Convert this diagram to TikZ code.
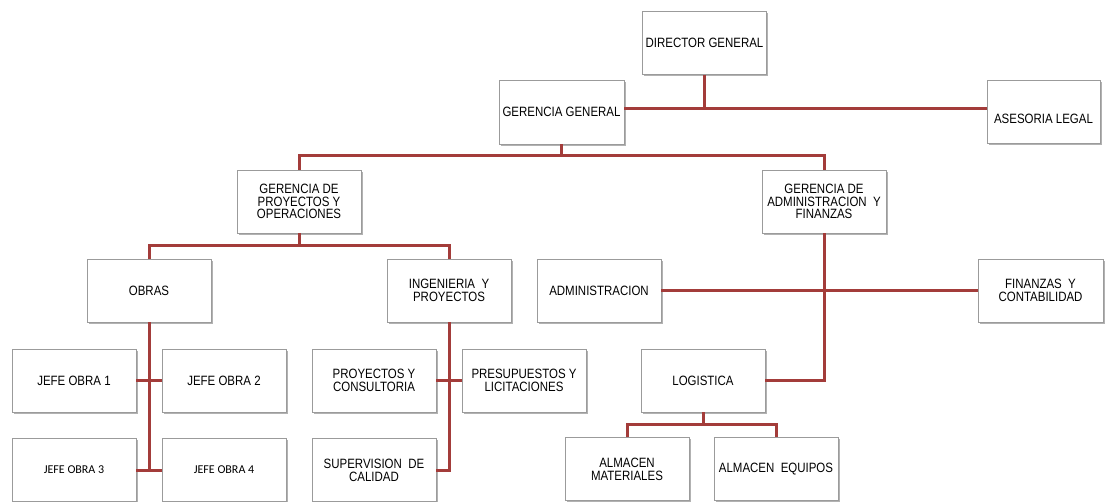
\documentclass[tikz,border=0pt]{standalone}
\usepackage{fontspec}
\setmainfont{Liberation Sans}[FakeStretch=0.85]
\newfontfamily\calibrifont{Carlito}
\usetikzlibrary{shadows}
\definecolor{linkred}{RGB}{163,60,58}
\definecolor{boxline}{RGB}{155,155,155}
\tikzset{
  orgbox/.style={draw=boxline, line width=0.6pt, fill=white,
    minimum width=124pt, minimum height=63pt, inner sep=1pt, align=center,
    font=\fontsize{13.5}{12.8}\selectfont,
    drop shadow={shadow xshift=1.5pt, shadow yshift=-1.8pt, fill=black, opacity=0.3}},
  smalltext/.style={font=\calibrifont\fontsize{12}{13}\selectfont},
  link/.style={draw=linkred, line width=3pt}
}
\begin{document}
\begin{tikzpicture}[x=1pt,y=-1pt]
\useasboundingbox[fill=white] (0,0) rectangle (1111,501);

\node[orgbox] (dg)  at (704.5,43)   {DIRECTOR GENERAL};
\node[orgbox, minimum width=125pt, minimum height=64pt] (gg) at (561.5,112) {GERENCIA GENERAL};
\node[orgbox, minimum width=113pt] (al) at (1043.5,112) {\raisebox{-11pt}[0pt][0pt]{ASESORIA LEGAL}};
\node[orgbox] (gpo) at (299,201.5)  {GERENCIA DE\\PROYECTOS Y\\OPERACIONES};
\node[orgbox] (gaf) at (824,201.5)  {GERENCIA DE\\ADMINISTRACION\ \ Y\\FINANZAS};
\node[orgbox] (obras) at (149,290.5) {OBRAS};
\node[orgbox] (iyp) at (449,290.5)  {INGENIERIA\ \ Y\\PROYECTOS};
\node[orgbox] (adm) at (599,290.5)  {ADMINISTRACION};
\node[orgbox, minimum width=125pt] (fin) at (1040.5,290.5) {FINANZAS\ \ Y\\CONTABILIDAD};
\node[orgbox] (log) at (703,380.5)  {LOGISTICA};
\node[orgbox] (jo1) at (74,380.5)   {JEFE OBRA 1};
\node[orgbox] (jo2) at (224,380.5)  {JEFE OBRA 2};
\node[orgbox] (pc)  at (374,380.5)  {PROYECTOS Y\\CONSULTORIA};
\node[orgbox] (pl)  at (524,380.5)  {PRESUPUESTOS Y\\LICITACIONES};
\node[orgbox, smalltext] (jo3) at (74,470)  {JEFE OBRA 3};
\node[orgbox, smalltext] (jo4) at (224,470) {JEFE OBRA 4};
\node[orgbox] (sc)  at (374,470)    {SUPERVISION\ \ DE\\CALIDAD};
\node[orgbox] (am)  at (627,469)    {ALMACEN\\MATERIALES};
\node[orgbox] (ae)  at (776,469)    {ALMACEN\ \ EQUIPOS};

\coordinate (j1) at (704.5,108);
\coordinate (j2) at (561.5,155);
\coordinate (j3) at (299,245);
\coordinate (j4) at (703,424);

% director / gerencia general / asesoria
\draw[link] (dg.south) -- (dg.south |- j1);
\draw[link] (gg.east |- j1) -- (al.west |- j1);
% gerencia general to gerencias
\draw[link] (gg.south) -- (j2);
\draw[link] (gpo.north) |- (j2) -| (gaf.north);
% proyectos y operaciones
\draw[link] (gpo.south) -- (j3);
\draw[link] (obras.north) |- (j3) -| (iyp.north);
% obras
\draw[link] (obras.south) -- (obras.south |- jo3.east);
\draw[link] (jo1.east) -- (jo2.west);
\draw[link] (jo3.east) -- (jo4.west);
% ingenieria
\draw[link] (iyp.south) |- (sc.east);
\draw[link] (pc.east) -- (pl.west);
% administracion y finanzas
\draw[link] (gaf.south) |- (log.east);
\draw[link] (adm.east) -- (fin.west);
% logistica
\draw[link] (log.south) -- (j4);
\draw[link] (am.north) |- (j4) -| (ae.north);
\end{tikzpicture}
\end{document}
